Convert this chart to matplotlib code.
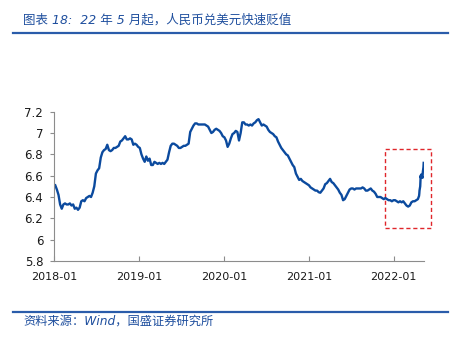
import matplotlib
matplotlib.use("Agg")
import matplotlib.pyplot as plt
import matplotlib.dates as mdates
from matplotlib.patches import Rectangle
from matplotlib.lines import Line2D
import pandas as pd

plt.rcParams['font.family'] = ['DejaVu Sans', 'Noto Sans CJK SC']

# USD/CNY central parity, weekly (Fridays)
rate_2018 = [6.51, 6.47, 6.42, 6.33,
             6.29, 6.33, 6.34, 6.33,
             6.33, 6.34, 6.32, 6.33, 6.29,
             6.30, 6.28, 6.30, 6.36,
             6.37, 6.36, 6.39, 6.40,
             6.41, 6.40, 6.44, 6.50, 6.62,
             6.65, 6.67, 6.77, 6.82,
             6.84, 6.85, 6.89, 6.84, 6.83,
             6.84, 6.86, 6.86, 6.87,
             6.88, 6.92, 6.93, 6.95,
             6.97, 6.94, 6.94, 6.95, 6.94,
             6.89, 6.90, 6.89, 6.87]
rate_2019 = [6.86, 6.80, 6.76, 6.73,
             6.78, 6.74, 6.76, 6.70,
             6.70, 6.73, 6.72, 6.71, 6.72,
             6.71, 6.72, 6.71, 6.73,
             6.75, 6.82, 6.88, 6.90, 6.90,
             6.89, 6.88, 6.86, 6.86,
             6.87, 6.88, 6.88, 6.89,
             6.90, 7.01, 7.04, 7.07, 7.09,
             7.09, 7.08, 7.08, 7.08,
             7.08, 7.08, 7.07, 7.06,
             7.03, 7.00, 7.01, 7.03, 7.04,
             7.03, 7.02, 7.00, 6.97]
rate_2020 = [6.96, 6.93, 6.87, 6.90, 6.95,
             6.99, 7.00, 7.02, 7.01,
             6.93, 7.00, 7.10, 7.10,
             7.08, 7.08, 7.07, 7.08,
             7.07, 7.09, 7.10, 7.12, 7.13,
             7.10, 7.07, 7.08, 7.07,
             7.06, 7.03, 7.01, 7.00, 6.99,
             6.97, 6.96, 6.92, 6.89,
             6.86, 6.84, 6.82, 6.80,
             6.79, 6.76, 6.73, 6.70, 6.68,
             6.62, 6.59, 6.56, 6.57,
             6.55, 6.54, 6.53, 6.52]
rate_2021 = [6.51, 6.49, 6.48, 6.47, 6.46,
             6.46, 6.445, 6.44, 6.46,
             6.48, 6.52, 6.53, 6.55,
             6.57, 6.54, 6.53, 6.51, 6.49,
             6.47, 6.44, 6.42, 6.37,
             6.38, 6.41, 6.44, 6.47,
             6.48, 6.48, 6.47, 6.48, 6.48,
             6.48, 6.48, 6.49, 6.48,
             6.46, 6.46, 6.47, 6.48,
             6.46, 6.45, 6.43, 6.40, 6.40,
             6.40, 6.39, 6.38, 6.39,
             6.38, 6.37, 6.37, 6.36, 6.37]
rate_2022 = [6.37, 6.36, 6.35, 6.36,
             6.35, 6.36, 6.34, 6.32,
             6.31, 6.32, 6.35, 6.36,
             6.36, 6.37, 6.38]
# daily values during the late-April / May jump
tail_dates = ['2022-04-20', '2022-04-21', '2022-04-22', '2022-04-25', '2022-04-26',
              '2022-04-27', '2022-04-28', '2022-04-29', '2022-05-05', '2022-05-06',
              '2022-05-09', '2022-05-10']
tail_rate = [6.41, 6.43, 6.46, 6.50, 6.56, 6.60, 6.58, 6.61, 6.58, 6.63, 6.68, 6.72]

weekly = rate_2018 + rate_2019 + rate_2020 + rate_2021 + rate_2022
weekly_dates = pd.date_range('2018-01-05', periods=len(weekly), freq='W-FRI')
dates = list(weekly_dates) + list(pd.to_datetime(tail_dates))
rate = weekly + tail_rate

title = '图表 18:  22 年 5 月起，人民币兑美元快速贬值'
source = '资料来源：Wind，国盛证券研究所'

fig = plt.figure(figsize=(4.58, 3.40), dpi=100)
ax = fig.add_axes([0.1186, 0.2324, 0.8065, 0.4391])

ax.plot(dates, rate, color='#0b4a9e', lw=1.7, solid_joinstyle='round')

ax.set_xlim(pd.Timestamp('2018-01-01'), pd.Timestamp('2022-05-10'))
ax.set_ylim(5.8, 7.2)
ax.set_yticks([5.8, 6.0, 6.2, 6.4, 6.6, 6.8, 7.0, 7.2])
ax.yaxis.set_major_formatter(plt.FuncFormatter(lambda v, p: f'{v:g}'))
ax.set_xticks(pd.to_datetime(['2018-01-01', '2019-01-01', '2020-01-01',
                              '2021-01-01', '2022-01-01']))
ax.xaxis.set_major_formatter(mdates.DateFormatter('%Y-%m'))

for s in ['top', 'right']:
    ax.spines[s].set_visible(False)
for s in ['left', 'bottom']:
    ax.spines[s].set_color('#8c8c8c')
    ax.spines[s].set_linewidth(0.8)
ax.tick_params(axis='y', direction='out', length=3, width=0.8, color='#8c8c8c',
               pad=5, labelsize=8.5, labelcolor='#1a1a1a')
ax.tick_params(axis='x', direction='in', length=3.5, width=0.8, color='#8c8c8c',
               pad=8, labelsize=8, labelcolor='#1a1a1a')

# red dashed box around the 2022 move
box = Rectangle((mdates.date2num(pd.Timestamp('2021-11-23')), 6.106),
                mdates.date2num(pd.Timestamp('2022-06-12')) - mdates.date2num(pd.Timestamp('2021-11-23')),
                6.851 - 6.106, fill=False, edgecolor='#e0262b', lw=1.0,
                linestyle=(0, (3, 2)), clip_on=False)
ax.add_patch(box)

fig.text(0.05, 0.941, title, fontsize=9, color='#1f4f9e', style='italic', va='center')
fig.text(0.052, 0.057, source, fontsize=8.8, color='#1f4f9e', style='italic', va='center')
fig.add_artist(Line2D([0.028, 0.978], [0.902, 0.902], color='#2a5caa', lw=1.6))
fig.add_artist(Line2D([0.028, 0.978], [0.082, 0.082], color='#2a5caa', lw=1.6))

fig.savefig('out.png', dpi=100)
